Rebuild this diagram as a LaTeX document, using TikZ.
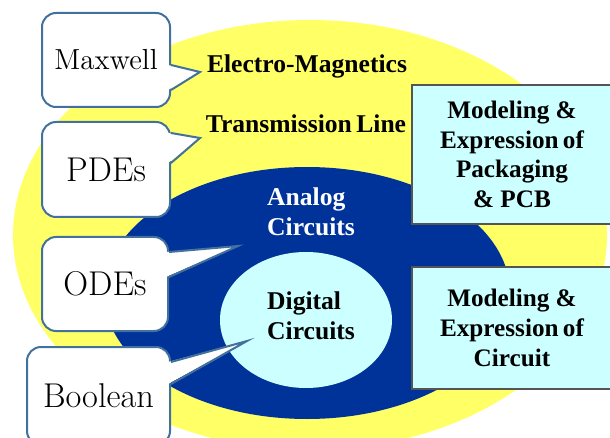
\documentclass[tikz,border=0pt]{standalone}
\usepackage{fontspec}
\newfontfamily\tnr{Liberation Serif}
\usetikzlibrary{positioning,calc}
\definecolor{emyellow}{RGB}{255,255,102}
\definecolor{anablue}{RGB}{0,51,153}
\definecolor{digicyan}{RGB}{204,255,255}
\definecolor{calloutblue}{RGB}{65,113,156}
\definecolor{boxgray}{RGB}{85,85,85}

\begin{document}
\begin{tikzpicture}[
  x=0.5pt, y=-0.5pt,
  bubble/.style={draw=calloutblue, line width=1pt, fill=white, rounded corners=7pt, inner sep=0pt, font=\fontsize{17.2}{20}\selectfont},
  ptr/.style={draw=calloutblue, line width=1pt, line join=miter},
  modelbox/.style={draw=boxgray, line width=0.7pt, fill=digicyan, align=center, inner sep=0pt, minimum width=100pt, font=\tnr\bfseries\fontsize{12.6}{14.8}\selectfont},
  lbl/.style={inner sep=0pt, font=\tnr\bfseries\fontsize{12.8}{14.8}\selectfont}
  ]
  \useasboundingbox (0,0) rectangle (610,438);
  % nested regions
  \fill[emyellow] (310,235) ellipse [x radius=297, y radius=215];
  \fill[anablue] (307,293) ellipse [x radius=203, y radius=126];
  \fill[digicyan] (306,320) ellipse [x radius=86, y radius=68];
  \node[lbl] (em) at (307,66) {Electro-Magnetics};
  \node[lbl] (tl) at (306,124) {Transmission\hspace{-1pt} Line};
  \node[lbl, text=white, align=left] (analog) at (311,212) {Analog\\Circuits};
  \node[lbl, align=left] (digital) at (311,316) {Digital\\Circuits};
  % modeling boxes
  \node[modelbox, minimum height=69.5pt] (pkg) at (512,154.5) {Modeling \&\\Expression\hspace{-1pt} of\\Packaging\\\& PCB};
  \node[modelbox, minimum height=61pt] (cir) at (512,328) {Modeling \&\\Expression\hspace{-1pt} of\\Circuit};
  % callouts
  \node[bubble, minimum width=64pt, minimum height=47pt, font=\fontsize{14.5}{17}\selectfont] (max) at (106,60) {Maxwell};
  \node[bubble, minimum width=64pt, minimum height=47.5pt] (pde) at (106,169.5) {PDEs};
  \node[bubble, minimum width=63pt, minimum height=47pt] (ode) at (105,284) {ODEs};
  \node[bubble, minimum width=71.5pt, minimum height=49pt] (bool) at (98.5,396) {Boolean};
  \coordinate (max-tip) at (200,72);
  \coordinate (pde-tip) at (200,138);
  \coordinate (ode-tip) at (238,246);
  \coordinate (bool-tip) at (247,341);
  \foreach \n/\a/\b in {max/65/90, pde/133/163, ode/252/277, bool/362/384}{
    \fill[white] ($(\n.east |- 0,\a)+(-3,0)$) -- (\n-tip) -- ($(\n.east |- 0,\b)+(-3,0)$) -- cycle;
    \draw[ptr] (\n.east |- 0,\a) -- (\n-tip) -- (\n.east |- 0,\b);
  }
\end{tikzpicture}
\end{document}
